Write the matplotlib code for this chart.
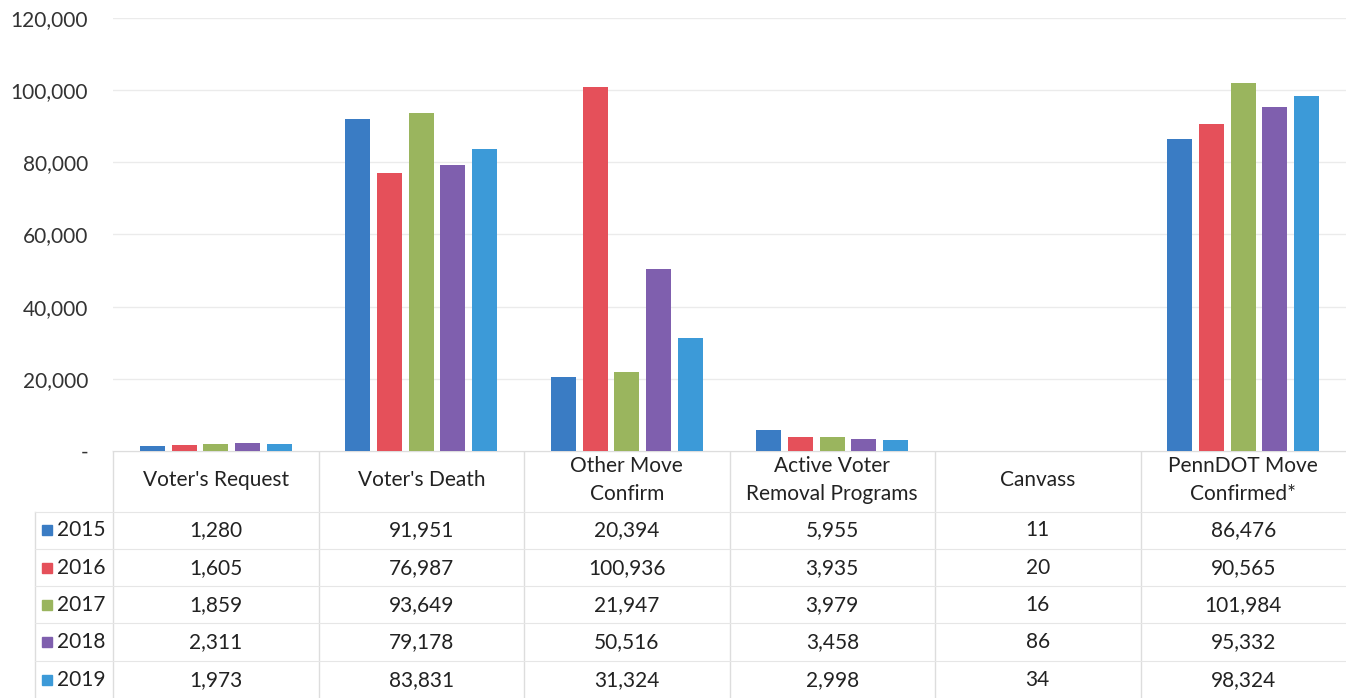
import numpy as np
import matplotlib.pyplot as plt
from matplotlib.patches import Rectangle

plt.rcParams['font.family'] = ['Lato', 'DejaVu Sans']

# removal reasons and yearly counts
categories = ["Voter's Request", "Voter's Death", "Other Move\nConfirm",
              "Active Voter\nRemoval Programs", "Canvass", "PennDOT Move\nConfirmed*"]
years = ['2015', '2016', '2017', '2018', '2019']
v2015 = [1280, 91951, 20394, 5955, 11, 86476]
v2016 = [1605, 76987, 100936, 3935, 20, 90565]
v2017 = [1859, 93649, 21947, 3979, 16, 101984]
v2018 = [2311, 79178, 50516, 3458, 86, 95332]
v2019 = [1973, 83831, 31324, 2998, 34, 98324]
series = [v2015, v2016, v2017, v2018, v2019]
colors = ['#3A7CC4', '#E5505A', '#9AB55E', '#7F5FAE', '#3C9AD8']

W, H = 1346, 698
fig = plt.figure(figsize=(W / 100, H / 100), dpi=100)

# bar chart area
left, right, top, bottom = 113, 1346, 18, 451
ax = fig.add_axes([left / W, 1 - bottom / H, (right - left) / W, (bottom - top) / H])
x = np.arange(len(categories))
step, width = 0.154, 0.122
for i, vals in enumerate(series):
    ax.bar(x + (i - 2) * step, vals, width=width, color=colors[i], zorder=3)
ax.set_xlim(-0.5, len(categories) - 0.5)
ax.set_ylim(0, 120000)
ax.set_yticks(np.arange(0, 120001, 20000))
ax.set_yticklabels(['-'] + [f'{v:,}' for v in range(20000, 120001, 20000)],
                   fontsize=15, color='#333333')
ax.tick_params(axis='y', length=0, pad=18)
ax.tick_params(axis='x', length=0, labelbottom=False)
ax.grid(axis='y', color='#EBEBEB', linewidth=1, zorder=0)
for s in ax.spines.values():
    s.set_visible(False)

# data table underneath
tab = fig.add_axes([0, 0, 1, 1], zorder=-1)
tab.set_xlim(0, W)
tab.set_ylim(H, 0)
tab.axis('off')
col_w = (right - left) / len(categories)
line_c = '#DDDDDD'
row_y = [530, 568, 605, 642, 680]
head_y = 480

tab.plot([left, right], [bottom, bottom], color=line_c, lw=1)
for k in range(len(categories)):
    xe = left + k * col_w
    tab.plot([xe, xe], [bottom, H], color=line_c, lw=1)
tab.plot([35, 35], [512, H], color=line_c, lw=1)
for yb in [512, 549, 586, 623, 661]:
    tab.plot([35, right], [yb, yb], color='#E6E6E6', lw=0.8)

for k, cat in enumerate(categories):
    cx = left + (k + 0.5) * col_w
    tab.text(cx, head_y, cat, ha='center', va='center', fontsize=15,
             color='#222222', linespacing=1.55)
    for r, vals in enumerate(series):
        tab.text(cx, row_y[r], f'{vals[k]:,}', ha='center', va='center',
                 fontsize=15, color='#222222')

for r, yr in enumerate(years):
    tab.add_patch(Rectangle((42, row_y[r] - 5), 10, 10, color=colors[r]))
    tab.text(57, row_y[r], yr, ha='left', va='center', fontsize=15, color='#222222')

fig.savefig('out.png', dpi=100, facecolor='white')
